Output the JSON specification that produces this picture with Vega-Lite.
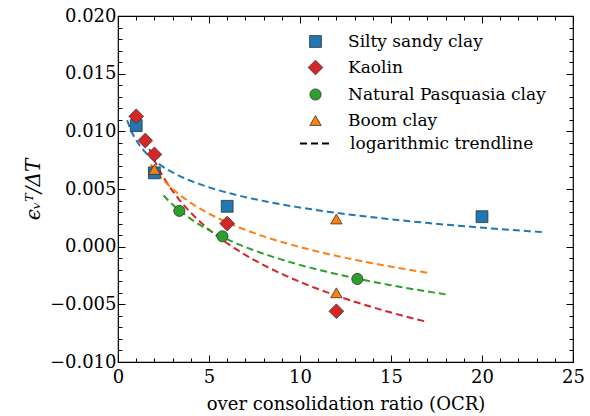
{
  "$schema": "https://vega.github.io/schema/vega-lite/v6.json",
  "width": 455,
  "height": 346,
  "autosize": "none",
  "padding": {"left": 118, "top": 16, "right": 17, "bottom": 54},
  "background": "white",
  "config": {
    "view": {"stroke": "black", "strokeWidth": 1.2},
    "font": "DejaVu Serif",
    "axis": {
      "domain": false,
      "grid": false,
      "tickColor": "black",
      "tickWidth": 1,
      "labelColor": "black",
      "titleColor": "black",
      "labelFont": "DejaVu Serif",
      "titleFont": "DejaVu Serif",
      "labelFontSize": 18,
      "titleFontSize": 18,
      "titleFontWeight": "normal",
      "labelFlush": false,
      "labelOverlap": false,
      "labelBound": false
    },
    "legend": {
      "labelFont": "DejaVu Serif",
      "labelFontSize": 17,
      "labelColor": "black",
      "labelLimit": 400,
      "padding": 0
    }
  },
  "data": {
    "values": [
      {"material": "Silty sandy clay", "ocr": 1, "eps": 0.0105},
      {"material": "Silty sandy clay", "ocr": 2, "eps": 0.0064},
      {"material": "Silty sandy clay", "ocr": 6, "eps": 0.0035},
      {"material": "Silty sandy clay", "ocr": 20, "eps": 0.0026},
      {"material": "Kaolin", "ocr": 1, "eps": 0.0113},
      {"material": "Kaolin", "ocr": 1.5, "eps": 0.0092},
      {"material": "Kaolin", "ocr": 2, "eps": 0.008},
      {"material": "Kaolin", "ocr": 6, "eps": 0.002},
      {"material": "Kaolin", "ocr": 12, "eps": -0.0056},
      {"material": "Natural Pasquasia clay", "ocr": 3.37, "eps": 0.0031},
      {"material": "Natural Pasquasia clay", "ocr": 5.74, "eps": 0.0009},
      {"material": "Natural Pasquasia clay", "ocr": 13.15, "eps": -0.0028},
      {"material": "Boom clay", "ocr": 2, "eps": 0.0067},
      {"material": "Boom clay", "ocr": 12, "eps": 0.0024},
      {"material": "Boom clay", "ocr": 12, "eps": -0.004}
    ]
  },
  "resolve": {"axis": {"x": "independent", "y": "independent"}},
  "layer": [
    {
      "transform": [
        {"filter": "datum.material === 'Silty sandy clay'"},
        {"regression": "eps", "on": "ocr", "method": "log", "extent": [0.5, 23.5], "groupby": ["material"]}
      ],
      "mark": {"type": "line", "strokeWidth": 2},
      "encoding": {
        "x": {"field": "ocr", "type": "quantitative", "axis": null, "scale": {"domain": [0, 25], "nice": false, "zero": false}},
        "y": {"field": "eps", "type": "quantitative", "axis": null, "scale": {"domain": [-0.01, 0.02], "nice": false, "zero": false}},
        "stroke": {"field": "material", "type": "nominal", "legend": null,
          "scale": {"domain": ["Kaolin", "Silty sandy clay", "Boom clay", "Natural Pasquasia clay"], "range": ["#d62728", "#1f77b4", "#ff7f0e", "#2ca02c"]}},
        "strokeDash": {"datum": "logarithmic trendline", "type": "nominal", "scale": {"range": [[7, 4]]},
          "legend": {"title": null, "orient": "none", "legendX": 181, "legendY": 110, "symbolType": "stroke", "symbolSize": 1089, "symbolStrokeColor": "black", "symbolStrokeWidth": 2, "labelOffset": 16}}
      }
    },
    {
      "transform": [
        {"filter": "datum.material === 'Kaolin'"},
        {"regression": "eps", "on": "ocr", "method": "log", "extent": [1.5, 17], "groupby": ["material"]}
      ],
      "mark": {"type": "line", "strokeWidth": 2},
      "encoding": {
        "x": {"field": "ocr", "type": "quantitative", "axis": null},
        "y": {"field": "eps", "type": "quantitative", "axis": null},
        "stroke": {"field": "material", "type": "nominal", "legend": null},
        "strokeDash": {"datum": "logarithmic trendline", "type": "nominal"}
      }
    },
    {
      "transform": [
        {"filter": "datum.material === 'Natural Pasquasia clay'"},
        {"regression": "eps", "on": "ocr", "method": "log", "extent": [2.5, 18], "groupby": ["material"]}
      ],
      "mark": {"type": "line", "strokeWidth": 2},
      "encoding": {
        "x": {"field": "ocr", "type": "quantitative", "axis": null},
        "y": {"field": "eps", "type": "quantitative", "axis": null},
        "stroke": {"field": "material", "type": "nominal", "legend": null},
        "strokeDash": {"datum": "logarithmic trendline", "type": "nominal"}
      }
    },
    {
      "transform": [
        {"filter": "datum.material === 'Boom clay'"},
        {"regression": "eps", "on": "ocr", "method": "log", "extent": [1.8, 17], "groupby": ["material"]}
      ],
      "mark": {"type": "line", "strokeWidth": 2},
      "encoding": {
        "x": {"field": "ocr", "type": "quantitative", "axis": null},
        "y": {"field": "eps", "type": "quantitative", "axis": null},
        "stroke": {"field": "material", "type": "nominal", "legend": null},
        "strokeDash": {"datum": "logarithmic trendline", "type": "nominal"}
      }
    },
    {
      "mark": {"type": "point", "filled": true, "stroke": "#333333", "strokeWidth": 0.8, "opacity": 1},
      "encoding": {
        "x": {"field": "ocr", "type": "quantitative",
          "axis": {"orient": "bottom", "title": "over consolidation ratio (OCR)",
            "values": [0,1,2,3,4,5,6,7,8,9,10,11,12,13,14,15,16,17,18,19,20,21,22,23,24,25],
            "labelExpr": "datum.value % 5 === 0 ? datum.label : ''",
            "tickSize": {"condition": {"test": "datum.value % 5 === 0", "value": -7}, "value": -4},
            "labelPadding": 13, "titlePadding": 6}},
        "y": {"field": "eps", "type": "quantitative",
          "axis": {"orient": "left", "title": "ϵᵥᵀ/ΔT", "titleFontStyle": "italic", "titleFontSize": 20, "format": ".3f",
            "values": [-0.01,-0.009,-0.008,-0.007,-0.006,-0.005,-0.004,-0.003,-0.002,-0.001,0,0.001,0.002,0.003,0.004,0.005,0.006,0.007,0.008,0.009,0.01,0.011,0.012,0.013,0.014,0.015,0.016,0.017,0.018,0.019,0.02],
            "labelExpr": "abs(round(datum.value*1000)) % 5 === 0 ? datum.label : ''",
            "tickSize": {"condition": {"test": "abs(round(datum.value*1000)) % 5 === 0", "value": -7}, "value": -4},
            "labelPadding": 9, "titlePadding": 6}},
        "color": {"field": "material", "type": "nominal",
          "scale": {"domain": ["Silty sandy clay", "Kaolin", "Natural Pasquasia clay", "Boom clay"], "range": ["#1f77b4", "#d62728", "#2ca02c", "#ff7f0e"]},
          "legend": {"title": null, "orient": "none", "legendX": 189, "legendY": 17, "symbolStrokeColor": "#333333", "symbolStrokeWidth": 0.8, "labelOffset": 24, "rowPadding": 8}},
        "shape": {"field": "material", "type": "nominal",
          "scale": {"domain": ["Silty sandy clay", "Kaolin", "Natural Pasquasia clay", "Boom clay"], "range": ["square", "diamond", "circle", "triangle-up"]},
          "legend": {"title": null, "orient": "none", "legendX": 189, "legendY": 17, "symbolStrokeColor": "#333333", "symbolStrokeWidth": 0.8, "labelOffset": 24, "rowPadding": 8}},
        "size": {"field": "material", "type": "nominal",
          "scale": {"type": "ordinal", "domain": ["Silty sandy clay", "Kaolin", "Natural Pasquasia clay", "Boom clay"], "range": [140, 216, 125, 130]},
          "legend": {"title": null, "orient": "none", "legendX": 189, "legendY": 17, "symbolStrokeColor": "#333333", "symbolStrokeWidth": 0.8, "labelOffset": 24, "rowPadding": 8}}
      }
    },
    {
      "mark": {"type": "point", "opacity": 0},
      "encoding": {
        "x": {"field": "ocr", "type": "quantitative",
          "axis": {"orient": "top", "title": null, "labels": false,
            "values": [0,1,2,3,4,5,6,7,8,9,10,11,12,13,14,15,16,17,18,19,20,21,22,23,24,25],
            "tickSize": {"condition": {"test": "datum.value % 5 === 0", "value": -7}, "value": -4}}},
        "y": {"field": "eps", "type": "quantitative",
          "axis": {"orient": "right", "title": null, "labels": false,
            "values": [-0.01,-0.009,-0.008,-0.007,-0.006,-0.005,-0.004,-0.003,-0.002,-0.001,0,0.001,0.002,0.003,0.004,0.005,0.006,0.007,0.008,0.009,0.01,0.011,0.012,0.013,0.014,0.015,0.016,0.017,0.018,0.019,0.02],
            "tickSize": {"condition": {"test": "abs(round(datum.value*1000)) % 5 === 0", "value": -7}, "value": -4}}}
      }
    }
  ]
}
